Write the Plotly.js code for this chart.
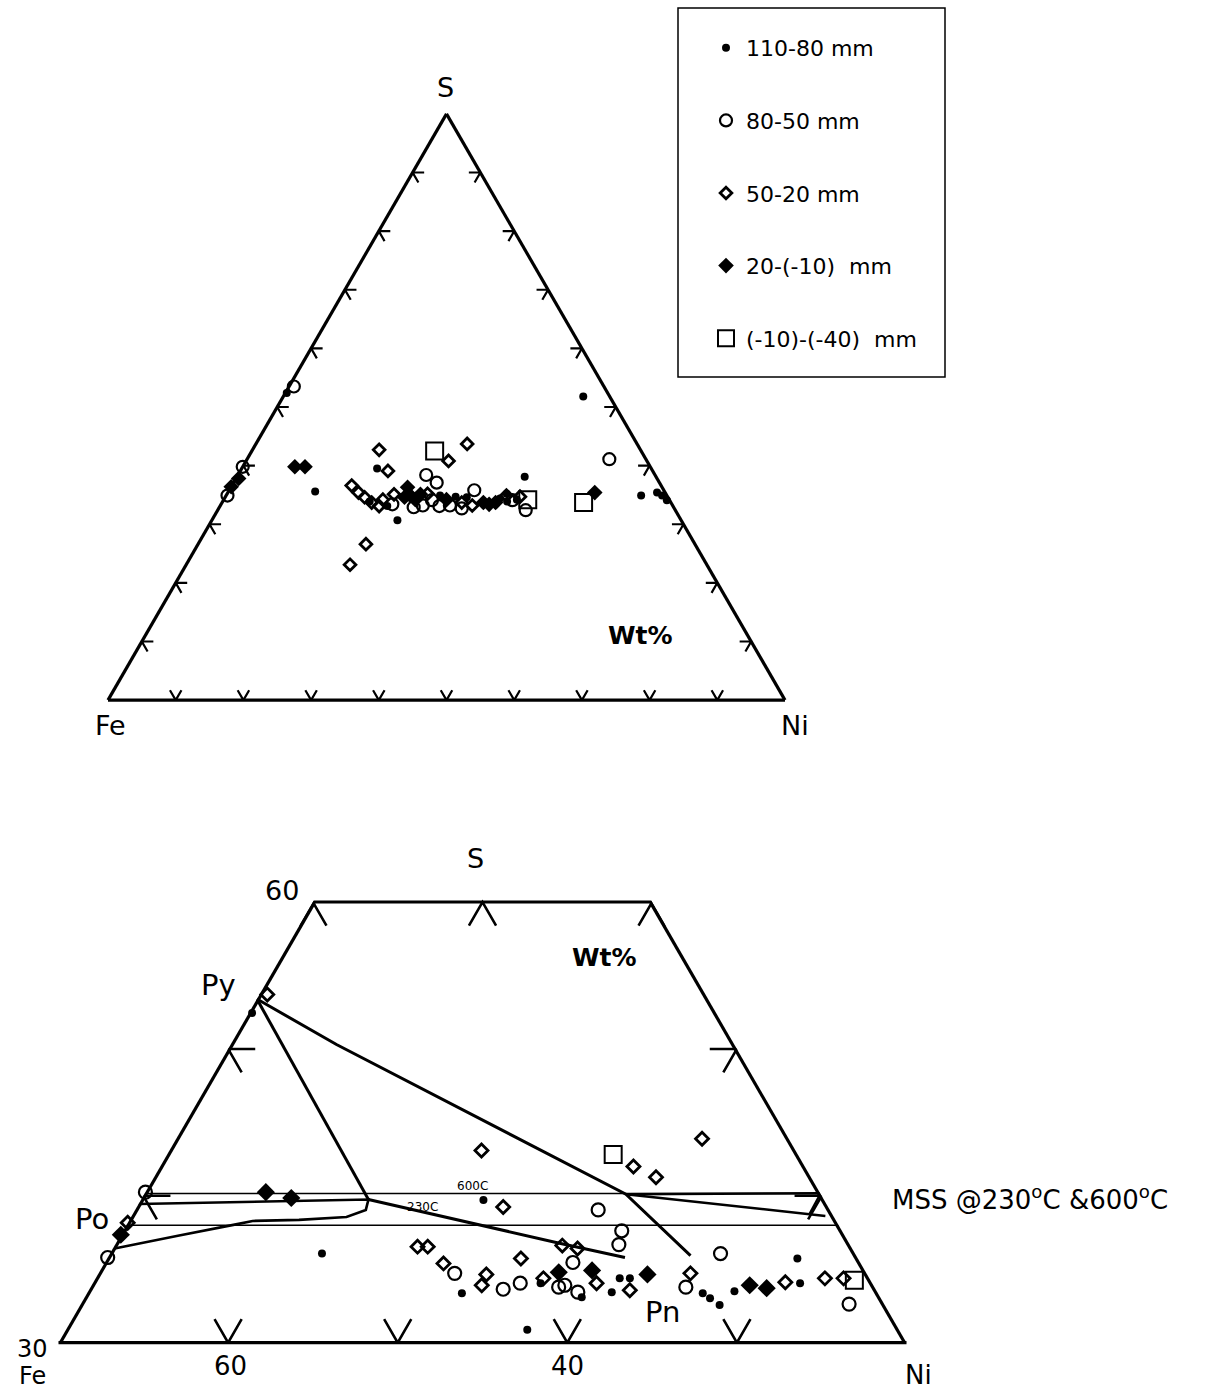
<!DOCTYPE html>
<html><head><meta charset="utf-8">
<script src="https://cdn.plot.ly/plotly-3.0.1.min.js"></script>
<style>html,body{margin:0;padding:0;background:#fff}</style>
</head><body>
<div id="chart" style="width:1210px;height:1393px"></div>
<script>
// ================= DATA (wt% S and wt% Ni; Fe is the remainder to 100) =================
const seriesNames = ['110-80 mm', '80-50 mm', '50-20 mm', '20-(-10)\u00a0\u00a0mm', '(-10)-(-40)\u00a0\u00a0mm'];

// ---- upper diagram: full Fe-S-Ni triangle ----
const top110_S  = [52.4, 35.6, 30.7, 39.5, 38.1, 35.2, 51.8, 34.9, 35.4, 34.9, 34.1, 33.9, 33.1, 34.9, 34.7, 34.6, 34.4, 33.9, 34.2];
const top110_Ni = [0.2, 12.8, 27.4, 20.0, 42.5, 41.3, 44.3, 61.3, 63.4, 64.4, 65.5, 21.7, 24.7, 31.6, 34.0, 35.7, 40.7, 42.0, 43.3];

const top80_S  = [53.5, 39.8, 34.9, 38.4, 37.1, 35.8, 32.4, 41.1, 33.4, 32.9, 33.2, 34.1, 33.1, 33.2, 32.7, 34.1];
const top80_Ni = [0.7, 0.0, 0.2, 27.8, 30.0, 36.2, 45.5, 53.5, 25.3, 28.7, 29.9, 30.8, 32.4, 33.9, 35.9, 42.7];

const top50_S  = [23.1, 26.6, 42.7, 43.7, 40.8, 39.1, 36.6, 35.4, 34.6, 33.7, 33.1, 34.2, 35.1, 35.2, 33.7, 33.2, 34.9, 34.7];
const top50_Ni = [24.2, 24.8, 18.7, 31.2, 29.9, 21.8, 17.7, 19.3, 20.6, 22.1, 23.5, 23.5, 24.7, 29.6, 35.4, 37.2, 41.4, 43.5];

const top20_S  = [36.4, 37.8, 39.8, 39.8, 35.4, 34.6, 34.9, 34.2, 35.1, 36.3, 34.2, 33.7, 33.4, 33.7];
const top20_Ni = [0.0, 0.4, 7.7, 9.2, 54.2, 26.5, 27.2, 28.3, 28.6, 26.1, 32.9, 38.6, 39.6, 40.4];

const topM10_S  = [42.5, 34.2, 33.7];
const topM10_Ni = [27.0, 44.9, 53.4];

// ---- lower diagram: S 30-60 wt% window ----
const bot110_S  = [52.45, 36.07, 39.71, 33.37, 33.10, 34.38, 34.38, 33.44, 30.88, 35.73, 33.37, 33.03, 32.56, 33.51, 34.05, 34.05];
const bot110_Ni = [0.19, 12.5, 20.2, 22.1, 29.3, 30.9, 31.5, 30.9, 27.2, 40.7, 36.3, 36.9, 37.7, 38.1, 41.7, 26.4];

const bot80_S  = [40.25, 35.80, 39.04, 37.62, 36.68, 34.72, 35.46, 33.64, 34.05, 33.78, 33.91, 33.44, 33.78, 36.07, 32.63];
const bot80_Ni = [0.0, 0.0, 27.3, 29.4, 29.7, 21.0, 27.6, 24.4, 25.2, 27.6, 27.9, 28.9, 35.1, 36.0, 45.3];

const bot50_S  = [53.7, 38.16, 43.08, 42.0, 41.26, 39.24, 36.54, 36.54, 36.61, 36.41, 35.73, 35.4, 34.65, 33.91, 34.38, 34.05, 33.57, 34.72, 43.89, 34.11, 34.38, 34.38];
const bot50_Ni = [0.46, 0.0, 18.4, 27.9, 29.6, 21.6, 17.9, 18.5, 26.4, 27.4, 24.4, 20.0, 22.9, 23.0, 26.4, 29.7, 31.9, 34.9, 31.0, 40.8, 43.0, 44.1];

const bot20_S  = [40.25, 39.85, 37.35, 34.79, 34.92, 34.65, 33.91, 33.71];
const bot20_Ni = [7.1, 8.8, 0.0, 27.1, 29.0, 32.4, 38.8, 39.9];

const botM10_S  = [42.81, 34.25];
const botM10_Ni = [26.3, 44.8];

// ---- phase-relation lines of the lower diagram ----
const tiePy230_S  = [53.4, 39.75];
const tiePy230_Ni = [0.0, 13.4];
const tiePyPn_S   = [53.4, 50.3, 40.11, 35.93];
const tiePyPn_Ni  = [0.0, 6.24, 28.4, 34.3];
const mss230_S    = [39.44, 39.75, 39.04, 38.56, 38.36, 38.29, 38.02, 37.28, 36.41];
const mss230_Ni   = [0.0, 13.4, 13.6, 12.7, 10.0, 7.3, 6.3, 3.4, 0.1];
const mss230Pn_S  = [39.75, 36.81, 35.8];
const mss230Pn_Ni = [13.4, 26.0, 30.5];
const mssRightA_S  = [40.11, 40.18];
const mssRightA_Ni = [28.4, 39.8];
const mssRightB_S  = [40.11, 38.63];
const mssRightB_Ni = [28.4, 40.9];
const mssRightC_S  = [38.77, 40.11];
const mssRightC_Ni = [39.9, 39.85];
const mss600Upper_S  = [40.15, 40.15];
const mss600Upper_Ni = [0.0, 39.85];
const mss600Lower_S  = [38.0, 38.0];
const mss600Lower_Ni = [0.0, 42.0];

// ---- frame / tick values ----
const topTicks = [10, 20, 30, 40, 50, 60, 70, 80, 90];
const botSMin = 30, botSMax = 60, botFeMin = 20;
const botTopTicksNi = [0, 10, 20];
const botSideTicksS = [40, 50];
const botBaseTicksFe = [60, 50, 40, 30];

// ================= BUILD =================
const W = 1210, H = 1393;
const px = v => v / W, py = v => 1 - v / H;

function chevrons(list) { // each item: [S1,Ni1, S0,Ni0, S2,Ni2]
  const a = [], c = [];
  list.forEach(p => { a.push(p[0], p[2], p[4], null); c.push(p[1], p[3], p[5], null); });
  return {a, c};
}
const dT = 1.7, dB = 1.6;
const topChev = [];
topTicks.forEach(v => {
  topChev.push([dT, v - dT, 0, v, dT, v]);                       // bottom edge
  topChev.push([v, dT, v, 0, v - dT, dT]);                       // left edge
  topChev.push([v, 100 - v - dT, v, 100 - v, v - dT, 100 - v]);  // right edge
});
const botChev = [];
botTopTicksNi.forEach(n => botChev.push([botSMax - dB, n, botSMax, n, botSMax - dB, n + dB]));
botSideTicksS.forEach(s => {
  botChev.push([s, dB, s, 0, s - dB, dB]);
  const ne = 100 - botFeMin - s;
  botChev.push([s, ne - dB, s, ne, s - dB, ne]);
});
botBaseTicksFe.forEach(f => {
  const n = 100 - botSMin - f;
  botChev.push([botSMin + dB, n - dB, botSMin, n, botSMin + dB, n]);
});
const tc = chevrons(topChev), bc = chevrons(botChev);

// trapezoid frame of the lower diagram (side edges lie on the clipped ternary boundary)
const sideS  = [botSMin, botSMax, null, botSMax, botSMin];
const sideNi = [0, 0, null, 100 - botSMax - botFeMin, 100 - botSMin - botFeMin];
const topEdgeS  = [botSMax, botSMax];
const topEdgeNi = [0, 100 - botSMax - botFeMin];

function line(sub, S, Ni, w) {
  return {type: 'scatterternary', subplot: sub, mode: 'lines', a: S, c: Ni, showlegend: false,
          hoverinfo: 'skip', cliponaxis: false, connectgaps: false,
          line: {color: 'black', width: w}};
}
function pts(sub, S, Ni, gi, marker, show) {
  return {type: 'scatterternary', subplot: sub, mode: 'markers', a: S, c: Ni, name: seriesNames[gi],
          legendgroup: 'g' + gi, showlegend: show, hoverinfo: 'skip', cliponaxis: false, marker: marker};
}
const mk = {
  dot:  s => ({symbol: 'circle', size: s, color: 'black'}),
  circ: s => ({symbol: 'circle-open', size: s, color: 'black', line: {width: 2.2, color: 'black'}}),
  odia: s => ({symbol: 'diamond-open', size: s, color: 'black', line: {width: 2.8, color: 'black'}}),
  fdia: s => ({symbol: 'diamond', size: s, color: 'black'}),
  sq:   s => ({symbol: 'square-open', size: s, color: 'black', line: {width: 2, color: 'black'}})
};

const data = [
  line('ternary', tc.a, tc.c, 2.2),
  line('ternary2', sideS, sideNi, 6.4),
  line('ternary2', topEdgeS, topEdgeNi, 3),
  line('ternary2', bc.a, bc.c, 2.6),
  line('ternary2', tiePy230_S, tiePy230_Ni, 3),
  line('ternary2', tiePyPn_S, tiePyPn_Ni, 3),
  line('ternary2', mss230_S, mss230_Ni, 2.6),
  line('ternary2', mss230Pn_S, mss230Pn_Ni, 3),
  line('ternary2', mssRightA_S, mssRightA_Ni, 2.6),
  line('ternary2', mssRightB_S, mssRightB_Ni, 2.6),
  line('ternary2', mssRightC_S, mssRightC_Ni, 2.2),
  line('ternary2', mss600Upper_S, mss600Upper_Ni, 1.5),
  line('ternary2', mss600Lower_S, mss600Lower_Ni, 1.5),

  pts('ternary', top110_S, top110_Ni, 0, mk.dot(8), true),
  pts('ternary', top80_S, top80_Ni, 1, mk.circ(12), true),
  pts('ternary', top50_S, top50_Ni, 2, mk.odia(9), true),
  pts('ternary', top20_S, top20_Ni, 3, mk.fdia(12), true),
  pts('ternary', topM10_S, topM10_Ni, 4, mk.sq(17), true),

  pts('ternary2', bot110_S, bot110_Ni, 0, mk.dot(8), false),
  pts('ternary2', bot80_S, bot80_Ni, 1, mk.circ(13), false),
  pts('ternary2', bot50_S, bot50_Ni, 2, mk.odia(10), false),
  pts('ternary2', bot20_S, bot20_Ni, 3, mk.fdia(14), false),
  pts('ternary2', botM10_S, botM10_Ni, 4, mk.sq(17), false)
];

function ax(min, show) {
  return {min: min, showline: show, linewidth: 3.2, linecolor: 'black', showgrid: false,
          showticklabels: false, ticks: '', title: {text: ''}};
}
const FONT = 'DejaVu Sans, Verdana, sans-serif';
function lab(t, x, y, size, bold) {
  return {text: bold ? '<b>' + t + '</b>' : t, x: px(x), y: py(y), xref: 'paper', yref: 'paper',
          xanchor: 'center', yanchor: 'middle', showarrow: false,
          font: {family: FONT, size: size, color: 'black'}};
}

const layout = {
  width: W, height: H, margin: {l: 0, r: 0, t: 0, b: 0},
  paper_bgcolor: 'white', font: {family: FONT, color: 'black'},
  hovermode: false, showlegend: true,
  ternary: {
    domain: {x: [px(108), px(785)], y: [py(701), py(113)]},
    sum: 100, bgcolor: 'rgba(0,0,0,0)',
    aaxis: ax(0, true), baxis: ax(0, true), caxis: ax(0, true)
  },
  ternary2: {
    domain: {x: [px(58.5), px(906.5)], y: [py(1344), py(607)]},
    sum: 100, bgcolor: 'rgba(0,0,0,0)',
    aaxis: ax(botSMin, false), baxis: ax(botFeMin, true), caxis: ax(0, false)
  },
  legend: {
    x: px(706), y: py(27), xanchor: 'left', yanchor: 'top',
    bgcolor: 'rgba(0,0,0,0)', borderwidth: 0, tracegroupgap: 41,
    font: {family: FONT, size: 22, color: 'black'}, traceorder: 'grouped'
  },
  shapes: [{type: 'rect', xref: 'paper', yref: 'paper', x0: px(678), x1: px(945), y0: py(377), y1: py(8),
            line: {color: 'black', width: 1.5}, fillcolor: 'rgba(0,0,0,0)'}],
  annotations: [
    lab('S', 445, 87, 27), lab('Fe', 110, 725, 27), lab('Ni', 795, 725, 27), lab('Wt%', 640, 635, 25, true),
    lab('S', 475, 858, 27), lab('60', 282, 890, 27), lab('30', 32, 1349, 24), lab('Fe', 32, 1376, 24),
    lab('Ni', 918, 1375, 26), lab('60', 230, 1366, 26), lab('40', 567, 1366, 26),
    lab('Py', 218, 985, 29), lab('Po', 92, 1219, 29), lab('Pn', 662, 1312, 29), lab('Wt%', 604, 958, 25, true),
    lab('600C', 472, 1186, 12), lab('230C', 422, 1207, 12),
    lab('MSS @230<sup>o</sup>C &600<sup>o</sup>C', 1030, 1198, 26)
  ]
};

Plotly.newPlot('chart', data, layout, {staticPlot: true, displayModeBar: false});
</script>
</body></html>
